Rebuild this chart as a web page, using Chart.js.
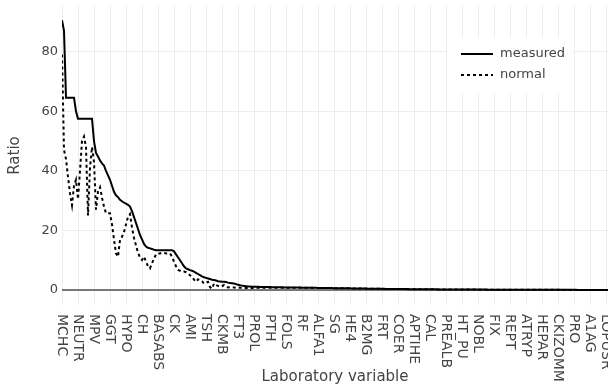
<!DOCTYPE html>
<html>
<head>
<meta charset="utf-8">
<script src="https://cdn.jsdelivr.net/npm/chart.js@4.4.1/dist/chart.umd.min.js"></script>
<style>
  body { margin: 0; background: #fff; overflow: hidden; }
</style>
</head>
<body>
<canvas id="ratioChart" width="608" height="388"></canvas>
<script>
// one tick label every 8 variables
var perTick = 8;

var tickLabels = ['MCHC', 'NEUTR', 'MPV', 'GGT', 'HYPO', 'CH', 'BASABS', 'CK', 'AMI', 'TSH',
    'CKMB', 'FT3', 'PROL', 'PTH', 'FOLS', 'RF', 'ALFA1', 'SG', 'HE4', 'B2MG', 'FRT', 'COER',
    'APTIHE', 'CAL', 'PREALB', 'HT_PU', 'NOBL', 'FIX', 'REPT', 'ATRYP', 'HEPAR', 'CKIZOMM',
    'PRO', 'A1AG', 'LOPUSR'];

var yTicks = [0, 20, 40, 60, 80];

var measured = [
    90.5, 87, 64.5, 64.5, 64.5, 64.5, 64.5, 60,
    57.5, 57.5, 57.5, 57.5, 57.5, 57.5, 57.5, 57.5,
    50, 46, 44.8, 43.5, 42.5, 41.8, 40, 38.5,
    37, 35, 33, 31.8, 31.2, 30.3, 29.8, 29.3,
    29, 28.6, 28, 26.5, 24.5, 22.5, 20.5, 18.5,
    17, 15.5, 14.6, 14.2, 14, 13.8, 13.5, 13.4,
    13.4, 13.4, 13.4, 13.4, 13.4, 13.4, 13.4, 13.4,
    13, 12, 11, 10, 9, 8, 7.3, 7,
    6.7, 6.5, 6.2, 5.8, 5.4, 5, 4.6, 4.3,
    4.1, 3.9, 3.7, 3.5, 3.4, 3.2, 3.0, 2.9,
    2.8, 2.8, 2.7, 2.5, 2.4, 2.3, 2.2, 2.0,
    1.8, 1.6, 1.5, 1.4, 1.3, 1.2, 1.2, 1.1,
    1.1, 1.1, 1.1, 1.05, 1.05, 1.0, 1.0, 1.0,
    1.0, 0.98, 0.96, 0.95, 0.94, 0.93, 0.92, 0.91,
    0.9, 0.89, 0.88, 0.87, 0.86, 0.85, 0.84, 0.83,
    0.82, 0.81, 0.8, 0.79, 0.78, 0.77, 0.76, 0.75,
    0.74, 0.73, 0.72, 0.71, 0.7, 0.69, 0.68, 0.67,
    0.66, 0.65, 0.64, 0.63, 0.62, 0.61, 0.6, 0.59,
    0.58, 0.57, 0.56, 0.55, 0.54, 0.53, 0.52, 0.51,
    0.5, 0.49, 0.48, 0.47, 0.46, 0.45, 0.44, 0.43,
    0.42, 0.41, 0.4, 0.4, 0.39, 0.38, 0.37, 0.37,
    0.36, 0.35, 0.35, 0.34, 0.33, 0.33, 0.32, 0.31,
    0.31, 0.3, 0.3, 0.29, 0.28, 0.28, 0.27, 0.27,
    0.26, 0.26, 0.25, 0.25, 0.24, 0.24, 0.23, 0.23,
    0.22, 0.22, 0.21, 0.21, 0.21, 0.2, 0.2, 0.2,
    0.19, 0.19, 0.19, 0.18, 0.18, 0.18, 0.17, 0.17,
    0.17, 0.16, 0.16, 0.16, 0.16, 0.15, 0.15, 0.15,
    0.15, 0.14, 0.14, 0.14, 0.14, 0.13, 0.13, 0.13,
    0.13, 0.13, 0.12, 0.12, 0.12, 0.12, 0.12, 0.11,
    0.11, 0.11, 0.11, 0.11, 0.11, 0.1, 0.1, 0.1,
    0.1, 0.1, 0.1, 0.1, 0.09, 0.09, 0.09, 0.09,
    0.09, 0.09, 0.09, 0.08, 0.08, 0.08, 0.08, 0.08,
    0.08, 0.08, 0.07, 0.07, 0.07, 0.07, 0.07, 0.07,
    0.07, 0.07, 0.06, 0.06, 0.06, 0.06, 0.06, 0.06,
    0.06, 0.06
];

var normal = [
    79, 47, 44, 38, 32.5, 28.5, 35, 37,
    30.5, 40, 50, 51.5, 48, 25, 41, 48,
    43, 27, 33, 34.5, 31, 28, 25.8, 25.8,
    25.8, 22, 17, 12.3, 11.2, 16.8, 17.9, 19.5,
    22, 24.6, 25.5, 21, 17.5, 15, 12.5, 11,
    10.1, 11.2, 9.5, 8, 7.3, 9, 10.5, 12,
    12.3, 12.3, 12.5, 12.5, 12.3, 12.3, 12.3, 11.2,
    9.5, 8, 6.8, 6.5, 6.2, 6.2, 6, 5.5,
    5, 4.5, 3.5, 2.8, 3.6, 3.4, 3, 2.2,
    2.5, 2.8, 1, 0.5, 2.2, 1.7, 1.4, 1.1,
    1.3, 1.7, 1.2, 0.9, 1, 1, 0.9, 0.8,
    0.9, 0.8, 0.8, 0.7, 0.7, 0.7, 0.6, 0.7,
    0.7, 0.7, 0.75, 0.75, 0.8, 0.8, 0.8, 0.8,
    0.78, 0.8, 0.8, 0.82, 0.8, 0.82, 0.83, 0.82,
    0.82, 0.81, 0.82, 0.8, 0.81, 0.8, 0.79, 0.8,
    0.78, 0.78, 0.77, 0.76, 0.76, 0.75, 0.74, 0.73,
    0.72, 0.71, 0.7, 0.7, 0.68, 0.67, 0.67, 0.66,
    0.64, 0.64, 0.63, 0.61, 0.6, 0.6, 0.59, 0.58,
    0.57, 0.56, 0.55, 0.54, 0.53, 0.52, 0.51, 0.5,
    0.49, 0.48, 0.47, 0.46, 0.45, 0.44, 0.43, 0.42,
    0.41, 0.4, 0.4, 0.39, 0.38, 0.37, 0.36, 0.36,
    0.35, 0.34, 0.34, 0.33, 0.32, 0.32, 0.31, 0.3,
    0.3, 0.29, 0.29, 0.28, 0.27, 0.27, 0.26, 0.26,
    0.25, 0.25, 0.24, 0.24, 0.23, 0.23, 0.22, 0.22,
    0.21, 0.21, 0.2, 0.2, 0.2, 0.19, 0.19, 0.19,
    0.18, 0.18, 0.18, 0.17, 0.17, 0.17, 0.16, 0.16,
    0.16, 0.15, 0.15, 0.15, 0.15, 0.14, 0.14, 0.14,
    0.14, 0.13, 0.13, 0.13, 0.13, 0.12, 0.12, 0.12,
    0.12, 0.12, 0.11, 0.11, 0.11, 0.11, 0.11, 0.1,
    0.1, 0.1, 0.1, 0.1, 0.1, 0.09, 0.09, 0.09,
    0.09, 0.09, 0.09, 0.09, 0.08, 0.08, 0.08, 0.08,
    0.08, 0.08, 0.08, 0.07, 0.07, 0.07, 0.07, 0.07,
    0.07, 0.07, 0.06, 0.06, 0.06, 0.06, 0.06, 0.06,
    0.06, 0.06, 0.05, 0.05, 0.05, 0.05, 0.05, 0.05,
    0.05, 0.05
];

var FONT = '"DejaVu Sans", Verdana, sans-serif';
var TEXT = '#444';

function toPoints(values) {
    return values.map(function(v, i) { return {x: i, y: v}; });
}

// tick labels (rotated top-to-bottom), axis titles and the legend box
var overlay = {
    id: 'overlay',
    afterDraw: function(chart) {
        var ctx = chart.ctx, area = chart.chartArea, xs = chart.scales.x;
        ctx.save();
        ctx.fillStyle = TEXT;
        ctx.font = '14px ' + FONT;
        ctx.textAlign = 'left';
        ctx.textBaseline = 'middle';
        tickLabels.forEach(function(name, k) {
            var px = xs.getPixelForValue(k * perTick);
            ctx.save();
            ctx.translate(px, area.bottom + 9);
            ctx.rotate(Math.PI / 2);
            ctx.fillText(name, 0, 0);
            ctx.restore();
        });

        ctx.font = '15px ' + FONT;
        ctx.textAlign = 'center';
        ctx.fillText('Laboratory variable', (area.left + area.right) / 2, 377);
        ctx.save();
        ctx.translate(15, (area.top + area.bottom) / 2);
        ctx.rotate(-Math.PI / 2);
        ctx.fillText('Ratio', 0, 0);
        ctx.restore();

        // legend
        ctx.fillStyle = '#fff';
        ctx.fillRect(447, 38, 126, 55);
        chart.data.datasets.forEach(function(ds, i) {
            var y = 54 + i * 21;
            ctx.strokeStyle = ds.borderColor;
            ctx.lineWidth = ds.borderWidth;
            ctx.setLineDash(ds.borderDash || []);
            ctx.beginPath();
            ctx.moveTo(461, y);
            ctx.lineTo(493, y);
            ctx.stroke();
            ctx.setLineDash([]);
            ctx.fillStyle = TEXT;
            ctx.font = '13px ' + FONT;
            ctx.textAlign = 'left';
            ctx.fillText(ds.label, 500, y);
        });
        ctx.restore();
    }
};

new Chart(document.getElementById('ratioChart'), {
    type: 'line',
    data: {
        datasets: [{
            label: 'measured',
            data: toPoints(measured),
            borderColor: '#000',
            borderWidth: 2,
            pointRadius: 0,
            tension: 0
        }, {
            label: 'normal',
            data: toPoints(normal),
            borderColor: '#000',
            borderWidth: 2,
            borderDash: [3, 3],
            pointRadius: 0,
            tension: 0
        }]
    },
    options: {
        responsive: false,
        animation: false,
        layout: { padding: { top: 6, right: 0, left: 0, bottom: 0 } },
        plugins: {
            legend: { display: false },
            tooltip: { enabled: false }
        },
        scales: {
            x: {
                type: 'linear',
                min: 0,
                max: 273,
                border: { display: false },
                grid: { color: '#eeeeee', drawTicks: false },
                ticks: { display: false },
                afterBuildTicks: function(scale) {
                    scale.ticks = tickLabels.map(function(_, k) { return {value: k * perTick}; });
                },
                afterFit: function(scale) { scale.height = 83; }
            },
            y: {
                min: -5,
                max: 95.3,
                border: { display: false },
                grid: {
                    drawTicks: false,
                    color: function(c) { return c.tick && c.tick.value === 0 ? '#777' : '#eeeeee'; },
                    lineWidth: function(c) { return c.tick && c.tick.value === 0 ? 2 : 1; }
                },
                ticks: {
                    padding: 4,
                    color: TEXT,
                    font: { family: FONT, size: 13 }
                },
                afterBuildTicks: function(scale) {
                    scale.ticks = yTicks.map(function(v) { return {value: v}; });
                },
                afterFit: function(scale) {
                    scale.width = 62;
                    scale.paddingTop = 0;
                    scale.paddingBottom = 0;
                }
            }
        }
    },
    plugins: [overlay]
});
</script>
</body>
</html>
